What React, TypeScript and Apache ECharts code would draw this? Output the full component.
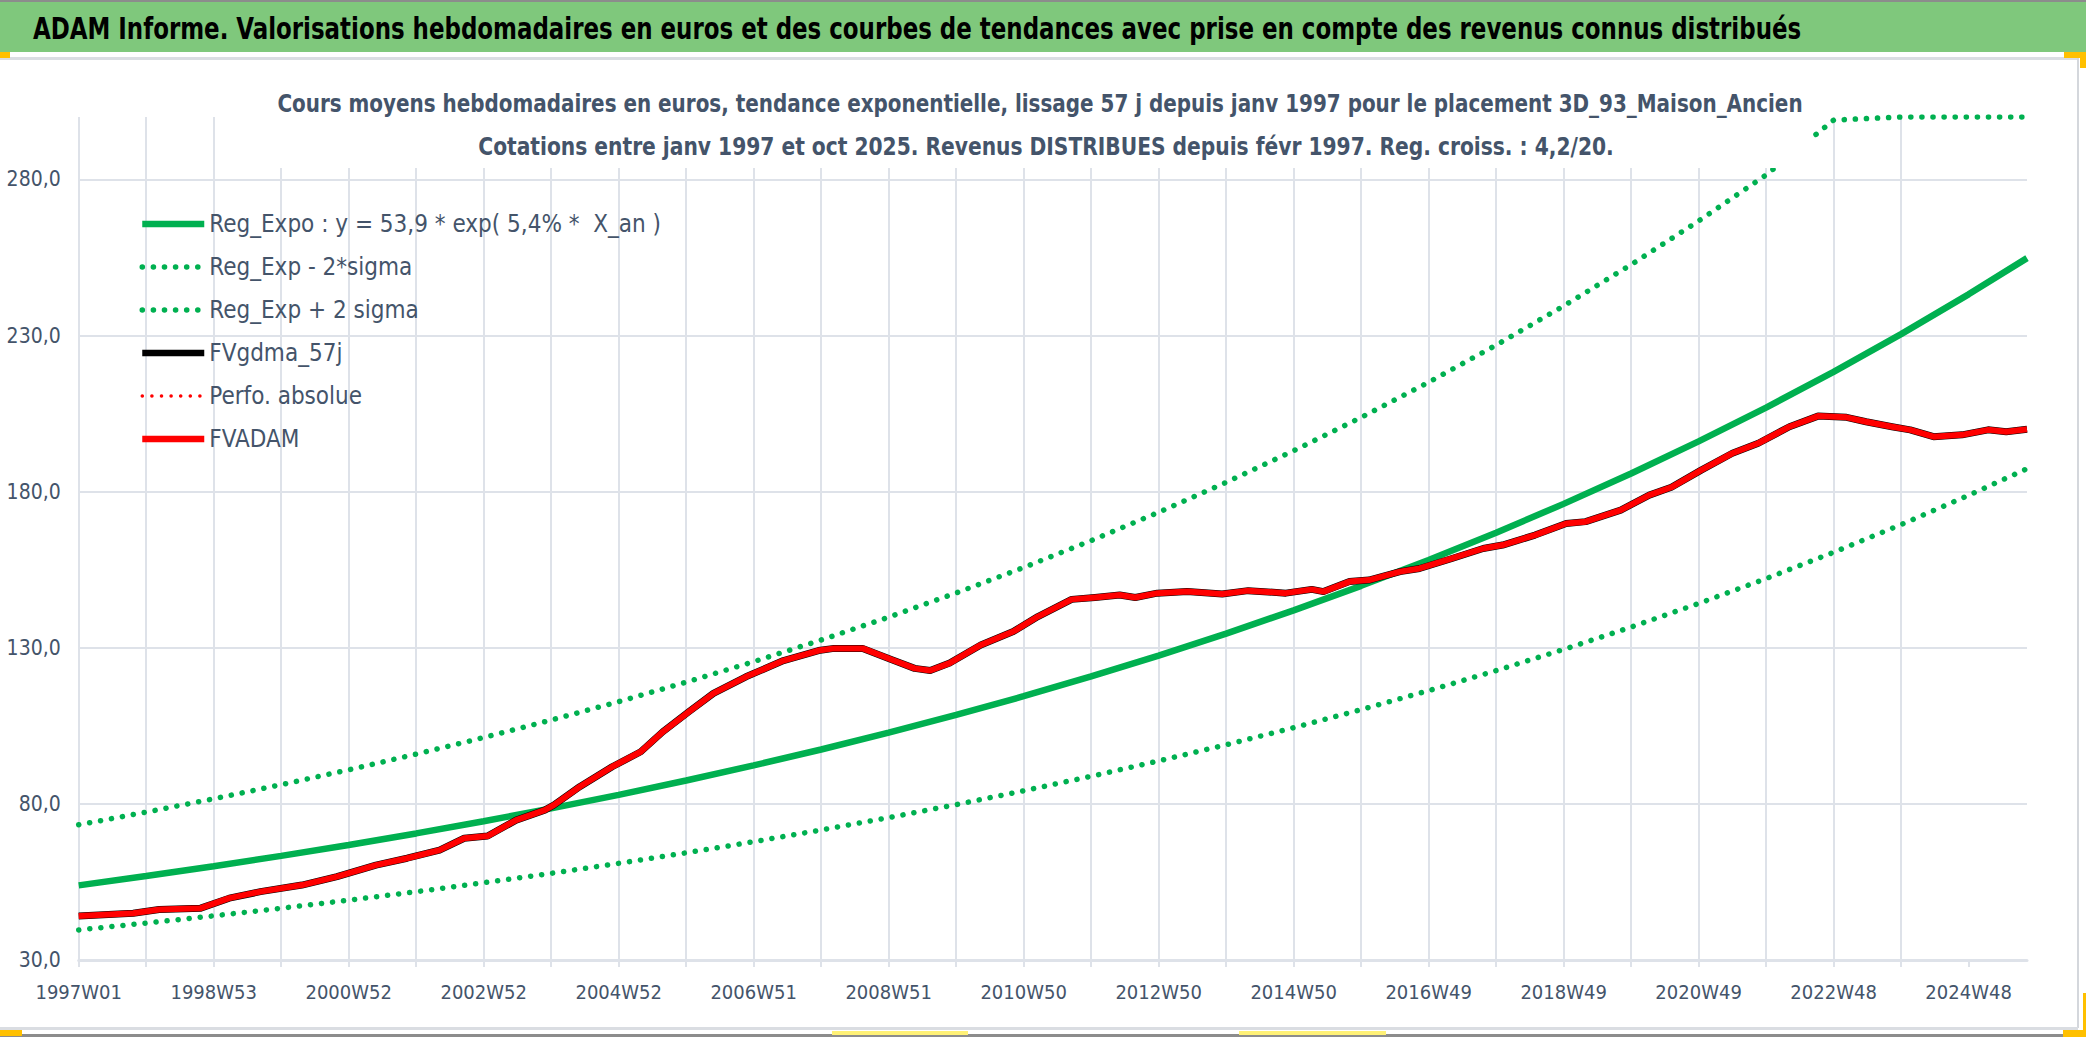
import React, { useEffect, useRef } from 'react';
import * as echarts from 'echarts';

const MAIN_TITLE =
  'ADAM Informe. Valorisations hebdomadaires en euros et des courbes de tendances avec prise en compte des revenus connus distribués';
const SUB_TITLE_1 =
  'Cours moyens hebdomadaires en euros, tendance exponentielle, lissage 57 j depuis janv 1997 pour le placement 3D_93_Maison_Ancien';
const SUB_TITLE_2 =
  'Cotations entre janv 1997 et oct 2025. Revenus DISTRIBUES depuis févr 1997. Reg. croiss. : 4,2/20.';

const seriesNames = [
  'Reg_Expo : y = 53,9 * exp( 5,4% *  X_an )',
  'Reg_Exp - 2*sigma',
  'Reg_Exp + 2 sigma',
  'FVgdma_57j',
  'Perfo. absolue',
  'FVADAM',
];

// x-axis tick labels, one every 104 weeks from 1997W01
const weekLabels = [
  '1997W01', '1998W53', '2000W52', '2002W52', '2004W52', '2006W51', '2008W51', '2010W50',
  '2012W50', '2014W50', '2016W49', '2018W49', '2020W49', '2022W48', '2024W48',
];
const LABEL_STEP = 104;
const GRID_STEP = 52;
const LAST_WEEK = 1501; // ~2025W41
const Y_MIN = 30;
const Y_MAX = 300;
const Y_STEP = 50;

// trend lines, read every 52 weeks (week index from 1997W01)
const trendWeek = [
  0, 52, 104, 156, 208, 260, 312, 364, 416, 468, 520, 572, 624, 676, 728, 780, 832, 884, 936, 988,
  1040, 1092, 1144, 1196, 1248, 1300, 1352, 1404, 1456, 1501,
];
const regExpo = [
  53.9, 56.88, 60.03, 63.34, 66.85, 70.54, 74.44, 78.56, 82.9, 87.48, 92.32, 97.42, 102.81, 108.49,
  114.49, 120.82, 127.5, 134.55, 141.99, 149.84, 158.12, 166.87, 176.09, 185.83, 196.1, 206.94,
  218.38, 230.46, 243.2, 254.8,
];
const regLow = [
  39.63, 41.82, 44.14, 46.58, 49.15, 51.87, 54.74, 57.76, 60.96, 64.33, 67.88, 71.64, 75.6, 79.77,
  84.19, 88.84, 93.75, 98.93, 104.4, 110.18, 116.27, 122.7, 129.48, 136.64, 144.19, 152.16, 160.58,
  169.45, 178.82, 187.35,
];
const regHigh = [
  73.3, 77.36, 81.63, 86.15, 90.91, 95.94, 101.24, 106.84, 112.74, 118.98, 125.56, 132.5, 139.82,
  147.55, 155.71, 164.32, 173.4, 182.99, 193.11, 203.78, 215.05, 226.94, 239.48, 252.72, 266.7,
  281.44, 299.0, 313.42, 330.75, 346.5,
];

// FVADAM weekly valuation
const fvadamWeek = [
  0, 42, 62, 94, 116, 140, 172, 199, 229, 253, 278, 297, 315, 337, 359, 366, 386, 411, 433, 450,
  470, 489, 514, 543, 570, 582, 604, 627, 644, 656, 671, 695, 720, 739, 765, 783, 802, 814, 831,
  854, 881, 901, 930, 950, 959, 979, 994, 1018, 1033, 1058, 1082, 1097, 1122, 1146, 1161, 1188,
  1210, 1227, 1250, 1274, 1294, 1318, 1340, 1362, 1377, 1397, 1411, 1429, 1451, 1471, 1485, 1501,
];
const fvadamValue = [
  44.1, 45.0, 46.2, 46.6, 49.8, 51.9, 54.0, 56.7, 60.4, 62.6, 65.2, 69.0, 69.7, 74.8, 78.0, 79.6,
  85.5, 91.9, 96.7, 103.1, 109.5, 115.4, 120.7, 125.9, 129.1, 129.8, 129.8, 126.1, 123.4, 122.7,
  125.1, 130.9, 135.2, 140.0, 145.5, 146.1, 146.9, 146.1, 147.5, 148.0, 147.2, 148.3, 147.5, 148.7,
  148.0, 151.2, 151.7, 154.4, 155.4, 158.6, 161.8, 162.9, 166.1, 169.8, 170.4, 174.1, 178.9, 181.4,
  186.9, 192.3, 195.5, 200.8, 204.2, 203.8, 202.4, 200.8, 199.8, 197.6, 198.2, 199.8, 199.2, 200.0,
];

const FONT = "'DejaVu Sans Condensed', 'Liberation Sans', sans-serif";
const TEXT = '#44546A';
const GRID = '#DEE2E9';
const GREEN = '#00B050';
const RED = '#FF0000';

const pairs = (xs: number[], ys: number[], cap = Infinity) => xs.map((x, i) => [x, Math.min(ys[i], cap)]);
const fmtY = (v: number) => v.toFixed(1).replace('.', ',');

const gridTicks = Array.from({ length: Math.floor(LAST_WEEK / GRID_STEP) + 1 }, (_, i) => i * GRID_STEP);
const labelTicks = weekLabels.map((_, i) => i * LABEL_STEP);

const dotted = (width: number, gap: number) => ({ width, type: [0.1, gap], cap: 'round' as const });

const legendStyles = [
  { color: GREEN, width: 6.5 },
  { color: GREEN, ...dotted(5.5, 11) },
  { color: GREEN, ...dotted(5.5, 11) },
  { color: '#000000', width: 6.5 },
  { color: RED, ...dotted(3.5, 9.5) },
  { color: RED, width: 6.5 },
];

function buildOption() {
  return {
    animation: false,
    backgroundColor: '#ffffff',
    textStyle: { fontFamily: FONT },
    graphic: [
      { type: 'rect', z: -10, shape: { x: 0, y: 0, width: 2086, height: 52 }, style: { fill: '#7FC87C' } },
      { type: 'rect', z: -9, shape: { x: 0, y: 0, width: 2086, height: 2 }, style: { fill: '#8C8C8C' } },
      { type: 'rect', z: -9, shape: { x: 0, y: 57, width: 2078, height: 3 }, style: { fill: '#DADDE2' } },
      { type: 'rect', z: -9, shape: { x: 0, y: 52, width: 10, height: 6 }, style: { fill: '#FFC000' } },
      { type: 'rect', z: -9, shape: { x: 2064, y: 52, width: 22, height: 6 }, style: { fill: '#FFC000' } },
      { type: 'rect', z: -9, shape: { x: 2080, y: 52, width: 6, height: 16 }, style: { fill: '#FFC000' } },
      { type: 'rect', z: -9, shape: { x: 2077, y: 58, width: 2, height: 970 }, style: { fill: '#D4D7DC' } },
      { type: 'rect', z: -9, shape: { x: 2083, y: 993, width: 3, height: 44 }, style: { fill: '#FFC000' } },
      { type: 'rect', z: -9, shape: { x: 0, y: 1027, width: 2078, height: 3 }, style: { fill: '#DADDE2' } },
      { type: 'rect', z: -9, shape: { x: 0, y: 1034, width: 2086, height: 3 }, style: { fill: '#8C8C8C' } },
      { type: 'rect', z: -8, shape: { x: 0, y: 1030, width: 22, height: 6 }, style: { fill: '#FFC000' } },
      { type: 'rect', z: -8, shape: { x: 2063, y: 1030, width: 23, height: 7 }, style: { fill: '#FFC000' } },
      { type: 'rect', z: -8, shape: { x: 832, y: 1031, width: 136, height: 4 }, style: { fill: '#FFF176' } },
      { type: 'rect', z: -8, shape: { x: 1239, y: 1031, width: 147, height: 4 }, style: { fill: '#FFF176' } },
      {
        type: 'text',
        z: 20,
        x: 33,
        y: 29,
        scaleX: 0.85,
        style: {
          text: MAIN_TITLE,
          fill: '#000000',
          font: `bold 30px ${FONT}`,
          textAlign: 'left',
          textVerticalAlign: 'middle',
        },
      },
      {
        type: 'rect',
        z: 20,
        shape: { x: 267, y: 74, width: 1546, height: 94 },
        style: { fill: '#ffffff' },
      },
      {
        type: 'text',
        z: 21,
        x: 1040,
        y: 104,
        scaleX: 0.887,
        style: {
          text: SUB_TITLE_1,
          fill: TEXT,
          font: `bold 25px ${FONT}`,
          textAlign: 'center',
          textVerticalAlign: 'middle',
        },
      },
      {
        type: 'text',
        z: 21,
        x: 1046,
        y: 147,
        scaleX: 0.9,
        style: {
          text: SUB_TITLE_2,
          fill: TEXT,
          font: `bold 25px ${FONT}`,
          textAlign: 'center',
          textVerticalAlign: 'middle',
        },
      },
    ],
    legend: {
      orient: 'vertical',
      left: 134,
      top: 204,
      itemWidth: 62,
      itemHeight: 14,
      itemGap: 13,
      itemStyle: { opacity: 0 },
      data: seriesNames.map((name, i) => ({
        name,
        itemStyle: { opacity: 0 },
        lineStyle: legendStyles[i],
      })),
      textStyle: { fontFamily: FONT, fontSize: 24, color: TEXT, lineHeight: 30 },
    },
    grid: { left: 78.7, right: 59, top: 117, bottom: 77, containLabel: false },
    xAxis: {
      type: 'value',
      min: 0,
      max: LAST_WEEK,
      interval: GRID_STEP,
      axisLine: { show: true, lineStyle: { color: GRID, width: 3 } },
      axisTick: { show: true, length: 7, customValues: gridTicks, lineStyle: { color: GRID, width: 2 } },
      splitLine: { show: true, showMaxLine: false, lineStyle: { color: GRID, width: 2 } },
      axisLabel: {
        customValues: labelTicks,
        margin: 22,
        fontFamily: FONT,
        fontSize: 20,
        color: TEXT,
        formatter: (v: number) => weekLabels[Math.round(v / LABEL_STEP)] ?? '',
      },
    },
    yAxis: {
      type: 'value',
      min: Y_MIN,
      max: Y_MAX,
      interval: Y_STEP,
      axisLine: { show: false },
      axisTick: { show: false },
      splitLine: { show: true, showMaxLine: false, showMinLine: false, lineStyle: { color: GRID, width: 2 } },
      axisLabel: {
        showMaxLabel: false,
        margin: 18,
        fontFamily: FONT,
        fontSize: 21,
        color: TEXT,
        formatter: (v: number) => fmtY(v),
      },
    },
    series: [
      {
        name: seriesNames[0],
        type: 'line',
        symbol: 'none',
        data: pairs(trendWeek, regExpo),
        lineStyle: { color: GREEN, width: 6.5 },
        itemStyle: { color: GREEN },
      },
      {
        name: seriesNames[1],
        type: 'line',
        symbol: 'none',
        data: pairs(trendWeek, regLow),
        lineStyle: { color: GREEN, ...dotted(5.5, 11) },
        itemStyle: { color: GREEN },
      },
      {
        name: seriesNames[2],
        type: 'line',
        symbol: 'none',
        data: pairs(trendWeek, regHigh, Y_MAX),
        lineStyle: { color: GREEN, ...dotted(5.5, 11) },
        itemStyle: { color: GREEN },
      },
      {
        name: seriesNames[3],
        type: 'line',
        symbol: 'none',
        data: pairs(fvadamWeek, fvadamValue),
        lineStyle: { color: '#000000', width: 7, join: 'round' },
        itemStyle: { color: '#000000' },
      },
      {
        name: seriesNames[4],
        type: 'line',
        symbol: 'none',
        data: [],
        lineStyle: { color: RED, ...dotted(3.5, 9.5) },
        itemStyle: { color: RED },
      },
      {
        name: seriesNames[5],
        type: 'line',
        symbol: 'none',
        data: pairs(fvadamWeek, fvadamValue),
        lineStyle: { color: RED, width: 6, join: 'round' },
        itemStyle: { color: RED },
      },
    ],
  };
}

export default function App() {
  const ref = useRef<HTMLDivElement>(null);
  useEffect(() => {
    if (!ref.current) return;
    const chart = echarts.init(ref.current, null, { renderer: 'svg' });
    chart.setOption(buildOption() as any);
    return () => chart.dispose();
  }, []);
  return (
    <div
      ref={ref}
      style={{ position: 'fixed', left: 0, top: 0, width: 2086, height: 1037, background: '#ffffff' }}
    />
  );
}
